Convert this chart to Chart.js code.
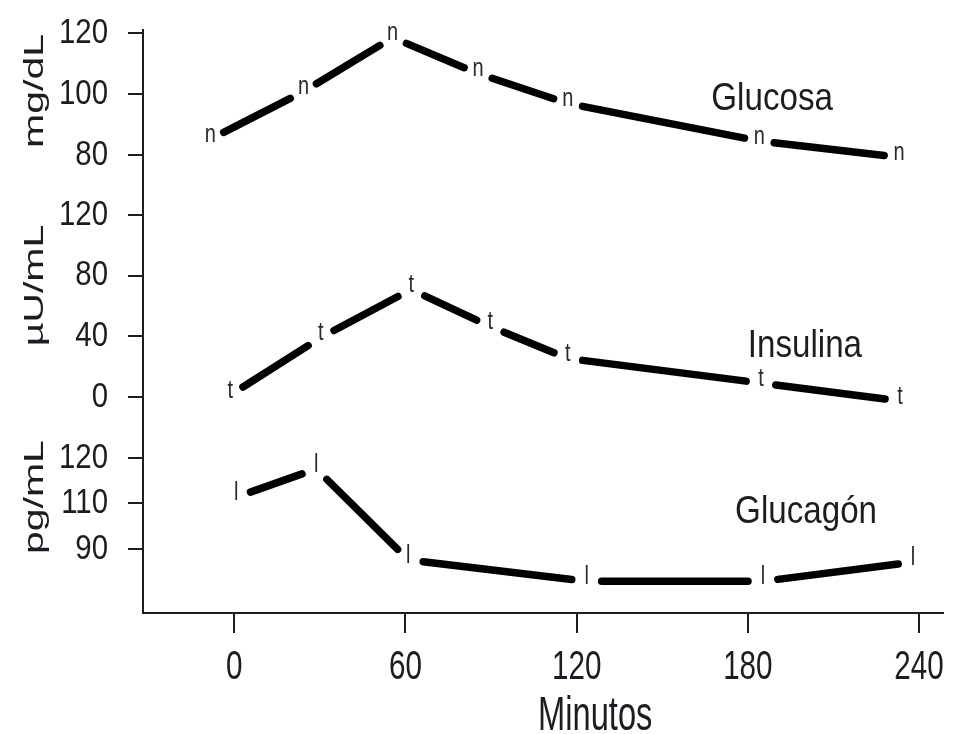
<!DOCTYPE html>
<html lang="es">
<head>
<meta charset="utf-8">
<title>Glucosa, insulina y glucagón</title>
<script src="https://cdn.jsdelivr.net/npm/chart.js@4.4.1/dist/chart.umd.min.js"></script>
<style>
  html, body { margin: 0; padding: 0; background: #fff; }
  #wrap { width: 956px; height: 734px; position: relative; }
</style>
</head>
<body>
<div id="wrap"><canvas id="chart"></canvas></div>
<script>
// --- datos ---
const glucosaMin = [-8.4, 24.3, 55.5, 85.4, 116.9, 184, 233];
const glucosaVal = [85.2, 100.8, 118.5, 106.7, 96.9, 84.6, 79.3];

const insulinaMin = [-1.4, 30.3, 62, 89.7, 116.9, 184.6, 233.3];
const insulinaVal = [1.3, 39.2, 70.9, 46.5, 25.4, 9.2, -2.6];

const glucagonMin = [0.7, 28.7, 61, 123.5, 185.3, 237.9];
const glucagonVal = [111.4, 117.6, 97.6, 92.9, 92.9, 97.1];

const minutosTicks = [0, 60, 120, 180, 240];
const glucosaTicks = [120, 100, 80];
const insulinaTicks = [120, 80, 40, 0];
// en la figura el eje de glucagón pone 120, 110 y 90 a la misma distancia
const glucagonTicks = [120, 110, 100];
const glucagonTickLabels = ['120', '110', '90'];

// --- estilos ---
const SANS = "'Liberation Sans', Arial, sans-serif";
const INK = '#1c1c22';

const toPoints = (xs, ys) => xs.map((x, i) => ({ x, y: ys[i] }));

function yScale(min, max, weight, ticks, labels) {
    return {
        type: 'linear', position: 'left', stack: 'izq', stackWeight: weight,
        min, max,
        afterBuildTicks: s => { s.ticks = ticks.map(v => ({ value: v })); },
        afterFit: s => { s.width = 143; s.paddingTop = 0; s.paddingBottom = 0; },
        border: { color: INK, width: 2 },
        grid: { drawOnChartArea: false, tickLength: 15, color: INK, lineWidth: 2 },
        // las etiquetas se dibujan en 'rotulos' (letra estrecha)
        ticks: { display: false, callback: (v, i) => labels ? labels[i] : String(v) }
    };
}

// segmentos gruesos que se cortan antes de cada marcador, y el marcador como letra
const trazos = {
    id: 'trazos',
    afterDatasetsDraw(chart, args, opts) {
        const { ctx } = chart;
        chart.data.datasets.forEach((ds, i) => {
            const pts = chart.getDatasetMeta(i).data;
            ctx.save();
            ctx.strokeStyle = '#000';
            ctx.lineWidth = opts.lineWidth;
            ctx.lineCap = 'round';
            for (let k = 0; k < pts.length - 1; k++) {
                const a = pts[k], b = pts[k + 1];
                const dx = b.x - a.x, dy = b.y - a.y, len = Math.hypot(dx, dy);
                const ux = dx / len, uy = dy / len;
                ctx.beginPath();
                ctx.moveTo(a.x + ux * opts.gap, a.y + uy * opts.gap);
                ctx.lineTo(b.x - ux * opts.gap, b.y - uy * opts.gap);
                ctx.stroke();
            }
            ctx.fillStyle = opts.markerColor;
            ctx.font = opts.markerFont;
            ctx.textAlign = 'center';
            ctx.textBaseline = 'middle';
            pts.forEach(p => {
                ctx.save();
                ctx.translate(p.x, p.y + opts.markerShift);
                ctx.scale(opts.markerSquash, 1);
                ctx.fillText(ds.marker, 0, 0);
                ctx.restore();
            });
            ctx.restore();
        });
    }
};

function squishText(ctx, text, x, y, sx, font, align, baseline) {
    ctx.save();
    ctx.translate(x, y);
    ctx.scale(sx, 1);
    ctx.font = font;
    ctx.textAlign = align;
    ctx.textBaseline = baseline;
    ctx.fillText(text, 0, 0);
    ctx.restore();
}

// etiquetas de ticks, títulos de ejes y nombres de las curvas
const rotulos = {
    id: 'rotulos',
    afterDraw(chart, args, opts) {
        const { ctx, scales } = chart;
        ctx.save();
        ctx.fillStyle = INK;

        const yt = opts.yTicks;
        ['yGlu', 'yIns', 'yGgn'].forEach(id => {
            const s = scales[id];
            s.ticks.forEach(t => squishText(ctx, t.label ?? String(t.value),
                s.right - yt.offset, s.getPixelForValue(t.value), yt.squash, yt.font, 'right', 'middle'));
        });
        const xt = opts.xTicks;
        scales.x.ticks.forEach(t => squishText(ctx, String(t.value),
            scales.x.getPixelForValue(t.value), scales.x.top + xt.offset, xt.squash, xt.font, 'center', 'middle'));

        opts.ejes.forEach(t => {
            ctx.save();
            ctx.translate(opts.ejeX, scales[t.scale].getPixelForValue(t.value));
            ctx.rotate(-Math.PI / 2);
            ctx.scale(1, opts.ejeSquash);
            ctx.font = opts.ejeFont;
            ctx.textAlign = 'center';
            ctx.textBaseline = 'middle';
            ctx.fillText(t.text, 0, 0);
            ctx.restore();
        });
        opts.curvas.forEach(t => squishText(ctx, t.text,
            scales.x.getPixelForValue(t.x), scales[t.scale].getPixelForValue(t.y),
            opts.curvaSquash, opts.curvaFont, 'center', 'alphabetic'));

        const m = opts.minutos;
        squishText(ctx, m.text, scales.x.getPixelForValue(m.x), scales.x.bottom - m.lift,
            m.squash, m.font, 'center', 'alphabetic');
        ctx.restore();
    }
};

new Chart(document.getElementById('chart'), {
    type: 'scatter',
    data: {
        datasets: [
            { label: 'Glucosa', marker: 'n', yAxisID: 'yGlu', data: toPoints(glucosaMin, glucosaVal) },
            { label: 'Insulina', marker: 't', yAxisID: 'yIns', data: toPoints(insulinaMin, insulinaVal) },
            { label: 'Glucagón', marker: 'l', yAxisID: 'yGgn', data: toPoints(glucagonMin, glucagonVal) }
        ]
    },
    options: {
        responsive: true, maintainAspectRatio: false, animation: false,
        showLine: false,
        elements: { point: { radius: 0, hoverRadius: 0 } },
        layout: { padding: { top: 30, right: 13, left: 0, bottom: 0 } },
        scales: {
            x: {
                type: 'linear', min: -32, max: 248.4,
                afterBuildTicks: s => { s.ticks = minutosTicks.map(v => ({ value: v })); },
                afterFit: s => { s.height = 121; s.paddingLeft = 0; s.paddingRight = 0; },
                border: { color: INK, width: 2 },
                grid: { drawOnChartArea: false, tickLength: 20, color: INK, lineWidth: 2 },
                ticks: { display: false }
            },
            // el apilado se reparte de abajo arriba: glucagón, insulina, glucosa
            yGgn: yScale(85.93, 126.81, 186, glucagonTicks, glucagonTickLabels),
            yIns: yScale(-19.78, 139.78, 242, insulinaTicks),
            yGlu: yScale(70.16, 120.98, 155, glucosaTicks)
        },
        plugins: {
            legend: { display: false },
            tooltip: { enabled: false },
            trazos: { lineWidth: 7.5, gap: 15, markerColor: '#2a2a35', markerFont: `25px ${SANS}`, markerShift: -4, markerSquash: 0.8 },
            rotulos: {
                yTicks: { offset: 35, squash: 0.84, font: `35px ${SANS}` },
                xTicks: { offset: 55, squash: 0.74, font: `40px ${SANS}` },
                ejeX: 35, ejeSquash: 0.68, ejeFont: `41px ${SANS}`,
                ejes: [
                    { text: 'mg/dL', scale: 'yGlu', value: 101 },
                    { text: 'µU/mL', scale: 'yIns', value: 73.5 },
                    { text: 'pg/mL', scale: 'yGgn', value: 111.4 }
                ],
                curvaSquash: 0.85, curvaFont: `39px ${SANS}`,
                curvas: [
                    { text: 'Glucosa', scale: 'yGlu', x: 188.5, y: 94.8 },
                    { text: 'Insulina', scale: 'yIns', x: 200, y: 26.4 },
                    { text: 'Glucagón', scale: 'yGgn', x: 200.4, y: 105.7 }
                ],
                minutos: { text: 'Minutos', x: 126.5, lift: 4, squash: 0.68, font: `48px ${SANS}` }
            }
        }
    },
    plugins: [trazos, rotulos]
});
</script>
</body>
</html>
